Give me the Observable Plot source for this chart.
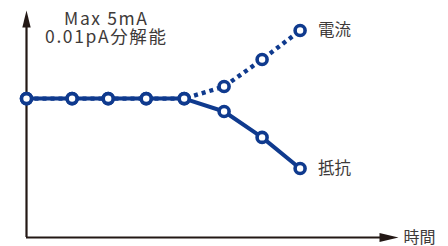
<!DOCTYPE html>
<html>
<head>
<meta charset="utf-8">
<script src="https://cdn.jsdelivr.net/npm/d3@7"></script>
<script src="https://cdn.jsdelivr.net/npm/@observablehq/plot@0.6"></script>
<style>
  html, body { margin: 0; padding: 0; background: #fff; }
</style>
</head>
<body>
<div id="chart"></div>
<script>
// ---- data ----
const times = [0, 1.2, 2.15, 3.15, 4.15, 5.2, 6.2, 7.2];
const current = [61.2, 61.2, 61.2, 61.2, 61.2, 66.5, 78.4, 91.2];
const resistance = [61.2, 61.2, 61.2, 61.2, 61.2, 55.5, 44.1, 30.4];
const seriesLabels = ["電流", "抵抗"];
const axisLabel = "時間";
const noteLines = ["Max 5mA", "0.01pA分解能"];
const noteY = [96.1, 88.2];
const noteX = 2.1;
const xAxisEnd = 9.79;
const yAxisEnd = 100;

const navy = "#0f3a8e";
const ink = "#231815";
const textColor = "#3e3a39";
const font = "'Noto Sans CJK JP', 'Noto Sans', sans-serif";

const curData = times.map((t, i) => ({t, v: current[i]}));
const resData = times.map((t, i) => ({t, v: resistance[i]}));
const ends = [
  {t: times[times.length - 1], v: current[current.length - 1], label: seriesLabels[0]},
  {t: times[times.length - 1], v: resistance[resistance.length - 1], label: seriesLabels[1]}
];
const notes = noteLines.map((s, i) => ({t: noteX, v: noteY[i], label: s}));

// filled, elongated arrowheads with their tip at the origin, pointing up
const arrowHead = {
  draw(ctx, size) {
    ctx.moveTo(0, 0);
    ctx.lineTo(4.2, 17);
    ctx.lineTo(-4.2, 17);
    ctx.closePath();
  }
};
const arrowHeadX = {
  draw(ctx, size) {
    ctx.moveTo(0, 0);
    ctx.lineTo(4.5, 19);
    ctx.lineTo(-4.5, 19);
    ctx.closePath();
  }
};

const chart = Plot.plot({
  width: 448,
  height: 246,
  margin: 0,
  x: {domain: [0, 10], range: [26, 406], axis: null},
  y: {domain: [0, 100], range: [237, 10], axis: null},
  style: {background: "#fff", fontFamily: font},
  marks: [
    // axes
    Plot.ruleY([0], {x1: 0, x2: xAxisEnd - 0.3, stroke: ink, strokeWidth: 2.2}),
    Plot.ruleX([0], {y1: 0, y2: yAxisEnd - 4, stroke: ink, strokeWidth: 2.2}),
    Plot.dot([{t: xAxisEnd, v: 0}], {x: "t", y: "v", symbol: arrowHeadX, rotate: 90, fill: ink, stroke: null, r: 5}),
    Plot.dot([{t: 0, v: yAxisEnd}], {x: "t", y: "v", symbol: arrowHead, fill: ink, stroke: null, r: 5}),
    // series
    Plot.line(curData, {x: "t", y: "v", stroke: navy, strokeWidth: 4.4, strokeDasharray: "4,4", strokeLinecap: "butt"}),
    Plot.line(resData, {x: "t", y: "v", stroke: navy, strokeWidth: 4}),
    Plot.dot(curData, {x: "t", y: "v", r: 5, fill: "#fff", stroke: navy, strokeWidth: 3.6}),
    Plot.dot(resData, {x: "t", y: "v", r: 5, fill: "#fff", stroke: navy, strokeWidth: 3.6}),
    // labels
    Plot.text(ends, {x: "t", y: "v", text: "label", dx: 18, textAnchor: "start", fill: textColor, fontSize: 16.5, fontFamily: font}),
    Plot.text([axisLabel], {x: xAxisEnd, y: 0, text: d => d, dx: 5, dy: 0, textAnchor: "start", fill: textColor, fontSize: 16, fontFamily: font}),
    Plot.text(notes, {x: "t", y: "v", text: "label", textAnchor: "middle", fill: textColor, fontSize: 17.5, fontFamily: font})
  ]
});
document.getElementById("chart").appendChild(chart);
d3.select(chart).selectAll("text").filter(function () {
  return noteLines.some(s => this.textContent.includes(s.slice(0, 3)));
}).attr("letter-spacing", "1.6px");
</script>
</body>
</html>
